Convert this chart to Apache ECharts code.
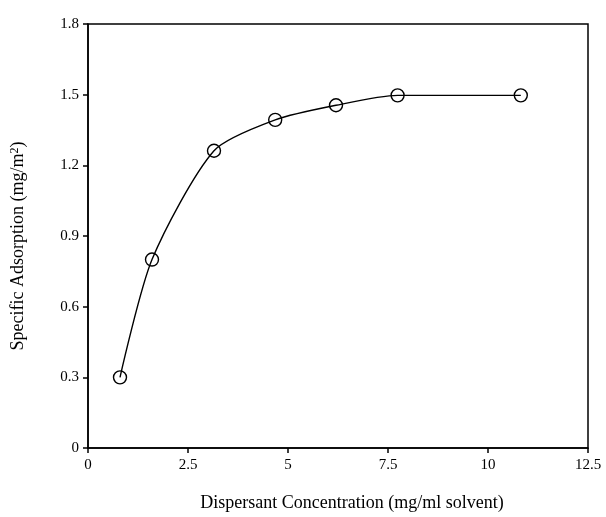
<!DOCTYPE html>
<html>
<head>
<meta charset="utf-8">
<script src="https://cdn.jsdelivr.net/npm/echarts@6/dist/echarts.min.js"></script>
<style>
  html, body { margin: 0; padding: 0; background: #fff; }
  #chart { width: 606px; height: 517px; }
</style>
</head>
<body>
<div id="chart"></div>
<script>
const concentration = [0.8, 1.6, 3.15, 4.68, 6.2, 7.74, 10.82]
const adsorption = [0.30, 0.80, 1.262, 1.393, 1.455, 1.497, 1.497]
const xTickLabels = ['0', '2.5', '5', '7.5', '10', '12.5']
const yTickLabels = ['0', '0.3', '0.6', '0.9', '1.2', '1.5', '1.8']

const font = 'Liberation Serif'
const chart = echarts.init(document.getElementById('chart'))

chart.setOption({
  animation: false,
  grid: {
    left: 88,
    top: 24,
    width: 500,
    height: 428,
    show: true,
    borderColor: '#000',
    borderWidth: 1.5
  },
  xAxis: {
    type: 'value',
    min: 0,
    max: 12.5,
    interval: 2.5,
    name: 'Dispersant Concentration (mg/ml solvent)',
    nameLocation: 'middle',
    nameGap: 46,
    nameTextStyle: { fontFamily: font, fontSize: 18, color: '#000', padding: [0, 0, 0, 28] },
    axisLine: { lineStyle: { color: '#000', width: 1.5 } },
    axisTick: { length: 5, lineStyle: { color: '#000', width: 1.5 } },
    axisLabel: {
      fontFamily: font, fontSize: 15, color: '#000', margin: 10,
      formatter: (v) => xTickLabels[Math.round(v / 2.5)]
    },
    splitLine: { show: false }
  },
  yAxis: {
    type: 'value',
    min: 0,
    max: 1.8,
    interval: 0.3,
    name: '{t|Specific Adsorption (mg/m}{s|2}{t|)}',
    nameLocation: 'middle',
    nameGap: 60,
    nameTextStyle: {
      padding: [0, 20, 0, 0],
      rich: {
        t: { fontFamily: font, fontSize: 18, color: '#000' },
        s: { fontFamily: font, fontSize: 12, color: '#000', verticalAlign: 'top', padding: [0, 0, 7, 0] }
      }
    },
    axisLine: { lineStyle: { color: '#000', width: 1.5 } },
    axisTick: { length: 5, lineStyle: { color: '#000', width: 1.5 } },
    axisLabel: {
      fontFamily: font, fontSize: 15, color: '#000', margin: 9,
      formatter: (v) => yTickLabels[Math.round(v / 0.3)]
    },
    splitLine: { show: false }
  },
  series: [{
    type: 'line',
    data: concentration.map((x, i) => [x, adsorption[i]]),
    smooth: 0.25,
    symbol: 'circle',
    symbolSize: 13,
    itemStyle: { color: 'rgba(255,255,255,0)', borderColor: '#000', borderWidth: 1.4 },
    lineStyle: { color: '#000', width: 1.4 }
  }]
})
</script>
</body>
</html>
